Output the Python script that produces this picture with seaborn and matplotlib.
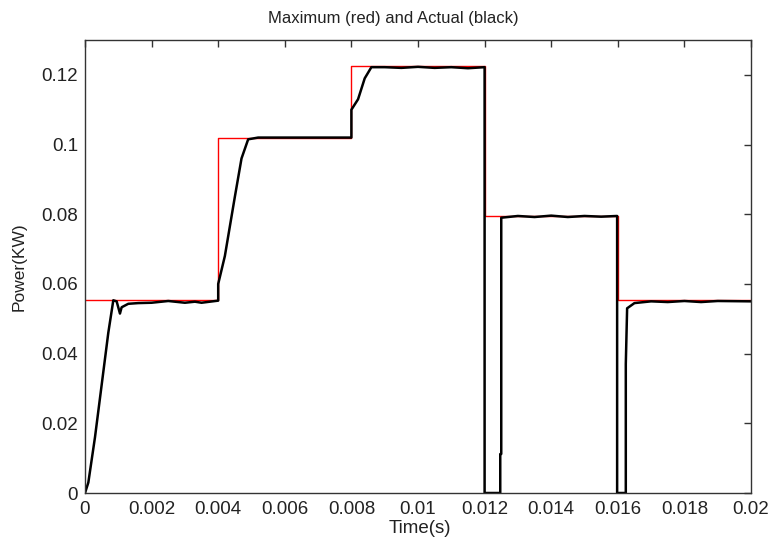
import numpy as np
import pandas as pd
import matplotlib
matplotlib.use("Agg")
import matplotlib.pyplot as plt
import seaborn as sns

# Maximum power (red step)
t_max = [0.0, 0.004, 0.004, 0.008, 0.008, 0.012, 0.012, 0.016, 0.016, 0.020]
p_max = [0.0553, 0.0553, 0.1020, 0.1020, 0.1225, 0.1225, 0.0795, 0.0795, 0.0553, 0.0553]

# Actual power (black)
t_act = [0.0, 0.0001, 0.0003, 0.0005, 0.0007, 0.00085, 0.00095, 0.00105, 0.0011,
         0.0013, 0.0016, 0.002, 0.0025, 0.003, 0.0033, 0.0035, 0.004,
         0.004, 0.0042, 0.0045, 0.0047, 0.0049, 0.0052, 0.006, 0.007, 0.008,
         0.008, 0.0082, 0.0084, 0.0086, 0.009, 0.0095, 0.010, 0.0105, 0.011, 0.0115, 0.012,
         0.012, 0.01247, 0.01247, 0.0125, 0.0125, 0.013, 0.0135, 0.014, 0.0145, 0.015, 0.0155, 0.01598,
         0.01598, 0.01624, 0.01624, 0.01628, 0.0165, 0.017, 0.0175, 0.018, 0.0185, 0.019, 0.02]
p_act = [0.0, 0.003, 0.016, 0.031, 0.046, 0.0553, 0.0550, 0.0515, 0.0533,
         0.0543, 0.0545, 0.0546, 0.0551, 0.0546, 0.0549, 0.0546, 0.0552,
         0.0600, 0.0680, 0.0850, 0.0960, 0.1015, 0.1020, 0.1020, 0.1020, 0.1020,
         0.1100, 0.1130, 0.1190, 0.1222, 0.1222, 0.1220, 0.1223, 0.1220, 0.1222, 0.1219, 0.1222,
         0.0, 0.0, 0.0112, 0.0112, 0.0790, 0.0795, 0.0792, 0.0796, 0.0792, 0.0795, 0.0793, 0.0795,
         0.0, 0.0, 0.0370, 0.0530, 0.0545, 0.0550, 0.0548, 0.0551, 0.0548, 0.0551, 0.0550]

x_ticks = [0, 0.002, 0.004, 0.006, 0.008, 0.01, 0.012, 0.014, 0.016, 0.018, 0.02]
x_labels = ["0", "0.002", "0.004", "0.006", "0.008", "0.01", "0.012", "0.014", "0.016", "0.018", "0.02"]
y_ticks = [0, 0.02, 0.04, 0.06, 0.08, 0.1, 0.12]
y_labels = ["0", "0.02", "0.04", "0.06", "0.08", "0.1", "0.12"]

sns.set_theme(style="white")
plt.rcParams['font.family'] = ['Liberation Sans', 'DejaVu Sans']

W, H = 774, 542
fig = plt.figure(figsize=(W / 100, H / 100), dpi=100)
L, R, T, B = 85, 751, 40, 493
ax = fig.add_axes([L / W, 1 - B / H, (R - L) / W, (B - T) / H])

df_max = pd.DataFrame({"t": t_max, "p": p_max})
df_act = pd.DataFrame({"t": t_act, "p": p_act})

sns.lineplot(data=df_max, x="t", y="p", estimator=None, sort=False, color="#ff0000", linewidth=1.0, ax=ax)
sns.lineplot(data=df_act, x="t", y="p", estimator=None, sort=False, color="black", linewidth=1.8, ax=ax)

ax.set_xlim(0, 0.02)
ax.set_ylim(0, 0.13)
ax.set_xticks(x_ticks)
ax.set_xticklabels(x_labels)
ax.set_yticks(y_ticks)
ax.set_yticklabels(y_labels)
ax.tick_params(direction="in", length=5, width=1, color="#333333", top=True, right=True,
               labelsize=13.5, labelcolor="#222222")
ax.tick_params(axis="x", pad=6)
ax.tick_params(axis="y", pad=5)
for s in ax.spines.values():
    s.set_color("#333333")
    s.set_linewidth(1.0)

ax.set_xlabel("Time(s)", fontsize=13.5, color="#222222")
ax.xaxis.set_label_coords(((L + R) / 2 + 2 - L) / (R - L), (B - 520) / (B - T))
ax.set_ylabel("Power(KW)", fontsize=12.5, color="#222222")
ax.yaxis.set_label_coords((27 - L) / (R - L), 0.5)
fig.text(393 / W, 1 - 18 / H, "Maximum (red) and Actual (black)", fontsize=12,
         ha="center", va="center", color="#222222")

fig.savefig("out.png", dpi=100)
